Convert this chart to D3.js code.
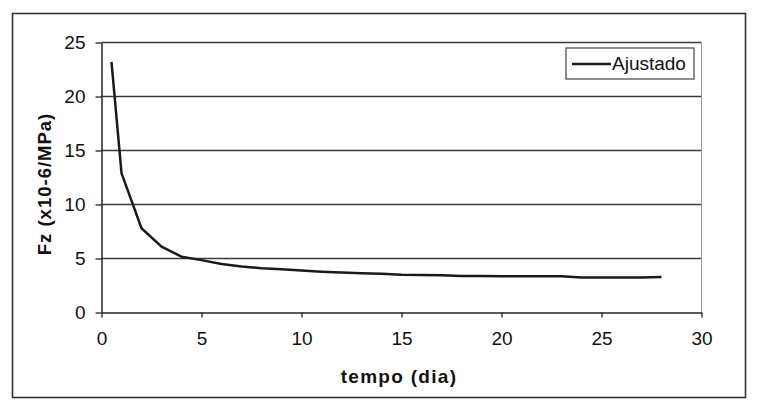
<!DOCTYPE html>
<html><head><meta charset="utf-8">
<script src="https://cdn.jsdelivr.net/npm/d3@7"></script>
<style>
html,body{margin:0;padding:0;background:#fff;}
text{font-family:"Liberation Sans",Arial,sans-serif;fill:#111;}
</style></head><body>
<svg id="chart" width="757" height="415"></svg>
<script>
const tempo = [0.5, 1, 2, 3, 4, 5, 6, 7, 8, 9, 10, 11, 12, 13, 14, 15, 16, 17, 18, 19, 20, 21, 22, 23, 24, 25, 26, 27, 28];
const fz = [23.2, 12.9, 7.8, 6.1, 5.17, 4.85, 4.5, 4.25, 4.1, 4.0, 3.9, 3.78, 3.7, 3.63, 3.58, 3.5, 3.47, 3.45, 3.38, 3.37, 3.36, 3.36, 3.36, 3.36, 3.25, 3.24, 3.24, 3.25, 3.28];
const xTicks = [0, 5, 10, 15, 20, 25, 30];
const yTicks = [0, 5, 10, 15, 20, 25];
const seriesName = "Ajustado";
const xTitle = "tempo (dia)";
const yTitle = "Fz (x10-6/MPa)";

const svg = d3.select("#chart");
const L = 101.5, R = 701.5, T = 42.5, B = 312.5;
const x = d3.scaleLinear().domain([0, 30]).range([L, R]);
const y = d3.scaleLinear().domain([0, 25]).range([B, T]);

// outer frame
svg.append("rect").attr("x", 12.5).attr("y", 13.5).attr("width", 733).attr("height", 384)
  .attr("fill", "none").attr("stroke", "#333").attr("stroke-width", 1.6);

// gridlines
svg.append("g").selectAll("line").data(yTicks.filter(d => d > 0)).join("line")
  .attr("x1", L).attr("x2", R).attr("y1", d => y(d)).attr("y2", d => y(d))
  .attr("stroke", "#3a3a3a").attr("stroke-width", 1.4);
// right plot border
svg.append("line").attr("x1", R).attr("x2", R).attr("y1", T).attr("y2", B)
  .attr("stroke", "#999").attr("stroke-width", 1);

// axes
const xAxis = svg.append("g").attr("transform", `translate(0,${B})`)
  .call(d3.axisBottom(x).tickValues(xTicks).tickSize(5).tickPadding(14).tickSizeOuter(0));
const yAxis = svg.append("g").attr("transform", `translate(${L},0)`)
  .call(d3.axisLeft(y).tickValues(yTicks).tickSize(6).tickPadding(10).tickSizeOuter(0));
[xAxis, yAxis].forEach(a => {
  a.selectAll(".domain").attr("stroke", "#222").attr("stroke-width", 1.5);
  a.selectAll(".tick line").attr("stroke", "#222").attr("stroke-width", 1.3);
  a.selectAll("text").attr("font-size", 19).attr("fill", "#111")
    .style("font-family", '"Liberation Sans",Arial,sans-serif');
});

// line
svg.append("path").datum(tempo.map((t, i) => [t, fz[i]]))
  .attr("fill", "none").attr("stroke", "#1a1a1a").attr("stroke-width", 2.5)
  .attr("stroke-linejoin", "round")
  .attr("d", d3.line().x(d => x(d[0])).y(d => y(d[1])));

// axis titles
svg.append("text").attr("x", 399).attr("y", 383).attr("text-anchor", "middle")
  .attr("font-size", 19).attr("font-weight", "bold").attr("letter-spacing", 1.3).text(xTitle);
svg.append("text").attr("transform", "translate(51,184) rotate(-90)").attr("text-anchor", "middle")
  .attr("font-size", 18.5).attr("font-weight", "bold").attr("letter-spacing", 1).text(yTitle);

// legend
const lg = svg.append("g");
lg.append("rect").attr("x", 566).attr("y", 48).attr("width", 128).attr("height", 31)
  .attr("fill", "#fff").attr("stroke", "#444").attr("stroke-width", 1.2);
lg.append("line").attr("x1", 572).attr("x2", 611).attr("y1", 64).attr("y2", 64)
  .attr("stroke", "#1a1a1a").attr("stroke-width", 2.5);
lg.append("text").attr("x", 612).attr("y", 70).attr("font-size", 19).text(seriesName);
</script>
</body></html>
